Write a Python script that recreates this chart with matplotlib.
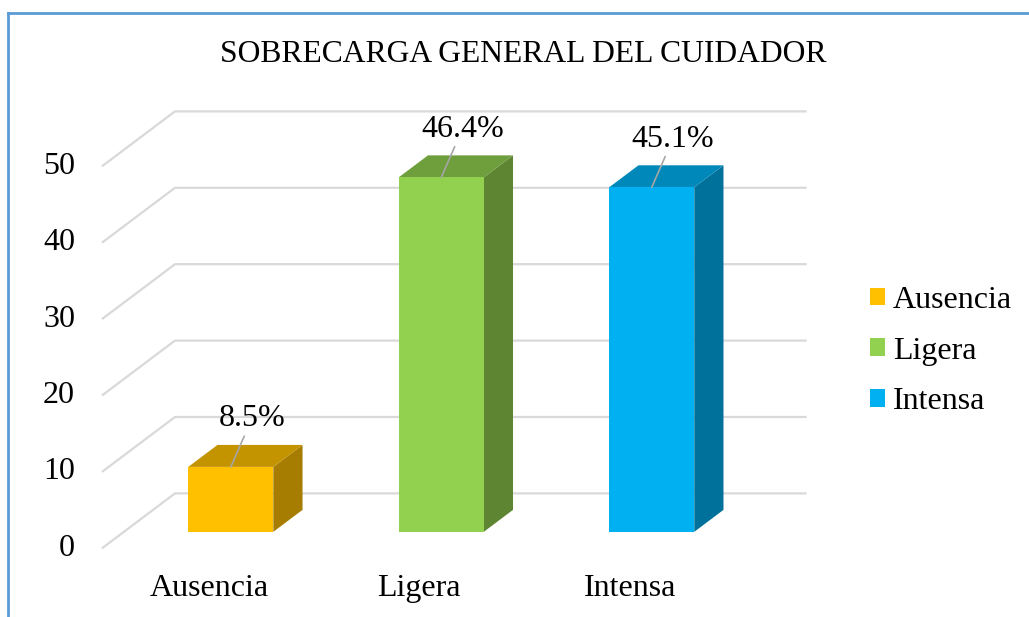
# Faux-3D column chart: overall caregiver burden (Zarit), in the style of the Excel 3D bars

import matplotlib.pyplot as plt
from matplotlib.patches import Polygon, Rectangle
from matplotlib.lines import Line2D

categories = ['Ausencia', 'Ligera', 'Intensa']
values = [8.5, 46.4, 45.1]
yticks = [0, 10, 20, 30, 40, 50]
title = 'SOBRECARGA GENERAL DEL CUIDADOR'

front_colors = ['#FFC000', '#92D050', '#00B0F0']
top_colors = ['#C49300', '#6F9E3C', '#0088BA']
side_colors = ['#A67D00', '#5E8531', '#00719B']

plt.rcParams['font.family'] = ['Liberation Serif', 'DejaVu Serif']

fig = plt.figure(figsize=(10.29, 6.17), dpi=100)
ax = fig.add_axes([0, 0, 1, 1])
ax.set_xlim(-0.9924, 3.8964)
ax.set_ylim(-8.99, 71.77)
ax.axis('off')

# depth of the floor (x in category units, y in value units)
DX, DY = 0.347, 7.19
d0, d1 = 0.30, 0.70   # bar front / back depth
w = 0.404
left, right = -0.508, 2.493
grid_c = '#D9D9D9'

for t in yticks:
    ax.plot([left, left + DX, right + DX], [t, t + DY, t + DY],
            color=grid_c, lw=1.6, zorder=1, solid_capstyle='butt')
    ax.text(-0.636, t, str(t), ha='right', va='center', fontsize=23)

handles = []
for i, (v, fc, tc, sc) in enumerate(zip(values, front_colors, top_colors, side_colors)):
    xl = i - w / 2 + d0 * DX
    xr = i + w / 2 + d0 * DX
    yb = d0 * DY
    yt = v + d0 * DY
    ddx, ddy = (d1 - d0) * DX, (d1 - d0) * DY
    front = Rectangle((xl, yb), w, v, facecolor=fc, edgecolor='none', zorder=3)
    side = Polygon([(xr, yb), (xr + ddx, yb + ddy), (xr + ddx, yt + ddy), (xr, yt)],
                   closed=True, facecolor=sc, edgecolor='none', zorder=3)
    top = Polygon([(xl, yt), (xr, yt), (xr + ddx, yt + ddy), (xl + ddx, yt + ddy)],
                  closed=True, facecolor=tc, edgecolor='none', zorder=3)
    ax.add_patch(side)
    ax.add_patch(top)
    ax.add_patch(front)
    handles.append(front)
    ax.annotate(f'{v}%', xy=(i + d0 * DX, yt), xytext=(21, 48),
                textcoords='offset pixels', ha='center', va='center', fontsize=23,
                arrowprops=dict(arrowstyle='-', color='#A6A6A6', lw=1.2,
                                shrinkA=0, shrinkB=0), zorder=5)
    ax.text(i, -5.2, categories[i], ha='center', va='center', fontsize=23)

fig.text(523 / 1029, 1 - 55 / 617, title, ha='center', va='center', fontsize=22.8)

fig.legend(handles, categories, loc='center left', bbox_to_anchor=(870 / 1029, 1 - 351 / 617),
           frameon=False, fontsize=23, handlelength=0.47, handleheight=0.47,
           handletextpad=0.25, labelspacing=0.68, borderpad=0, borderaxespad=0)

# chart border (cut off at right and bottom)
bc = '#5B9BD5'
fig.add_artist(Line2D([8 / 1029, 8 / 1029], [0, 1 - 12.5 / 617], color=bc, lw=2))
fig.add_artist(Line2D([8 / 1029, 1], [1 - 12.5 / 617, 1 - 12.5 / 617], color=bc, lw=2))

fig.savefig('out.png', dpi=100)
